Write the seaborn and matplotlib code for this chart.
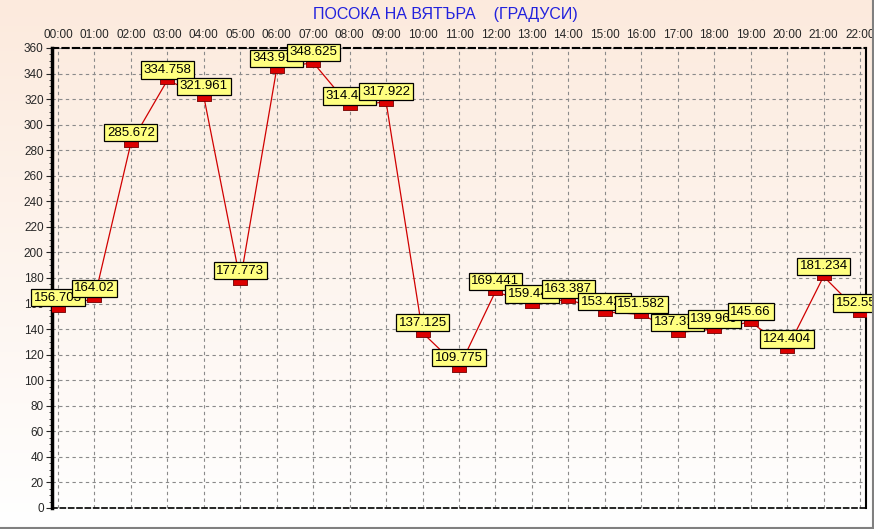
import matplotlib
matplotlib.use("Agg")
import matplotlib.pyplot as plt
from matplotlib.lines import Line2D
from matplotlib.ticker import MultipleLocator
import numpy as np
import pandas as pd
import seaborn as sns

# ── data ──────────────────────────────────────────────────────────────────────
hours = [f"{h:02d}:00" for h in range(23)]
direction = [156.703, 164.02, 285.672, 334.758, 321.961, 177.773, 343.914,
             348.625, 314.485, 317.922, 137.125, 109.775, 169.441, 159.447,
             163.387, 153.425, 151.582, 137.318, 139.969, 145.66, 124.404,
             181.234, 152.557]
y_ticks = list(range(0, 361, 20))
title = "ПОСОКА НА ВЯТЪРА    (ГРАДУСИ)"

df = pd.DataFrame({"idx": range(len(hours)), "hour": hours, "deg": direction})

sns.set_style("white")
plt.rcParams["font.family"] = ["Liberation Sans", "DejaVu Sans"]

W, H = 874, 529
fig = plt.figure(figsize=(W / 100, H / 100), dpi=100)

# gradient background (peach at top -> white at bottom)
bg = fig.add_axes([0, 0, 1, 1])
top = np.array([252, 234, 221]) / 255
bot = np.array([255, 255, 255]) / 255
t = np.linspace(0, 1, 256)[:, None]
grad = top * (1 - t[..., None]) + bot * t[..., None]
grad = np.repeat(grad, 2, axis=1)
bg.imshow(grad, aspect="auto", extent=[0, 1, 0, 1])
bg.set_axis_off()
bg.set_zorder(0)

# plot area
left, right, ytop, ybot = 52, 866, 48, 508
ax = fig.add_axes([left / W, (H - ybot) / H, (right - left) / W, (ybot - ytop) / H])
ax.set_zorder(1)
ax.patch.set_alpha(0)

# flat rectangular marker (wider than tall)
rect = [(-1.6, -1), (1.6, -1), (1.6, 1), (-1.6, 1), (-1.6, -1)]
sns.lineplot(data=df, x="idx", y="deg", ax=ax, color="#d00000", lw=0.9,
             marker=rect, markersize=10, markerfacecolor="#dd0000",
             markeredgecolor="#700000", markeredgewidth=0.6, zorder=3)

px = (right - left) / 22.33
ax.set_xlim(-6 / px, 22 + 6 / px)
ax.set_ylim(0, 360)

for i, (x, v) in enumerate(zip(df["idx"], df["deg"])):
    ax.annotate(f"{v:g}", (x, v), xytext=(0, 3), textcoords="offset points",
                ha="center", va="bottom", fontsize=9.5, color="black",
                zorder=10 + i, annotation_clip=False,
                bbox=dict(boxstyle="square,pad=0.2", fc="#ffff80", ec="black", lw=0.9))

ax.set_xticks(df["idx"])
ax.set_xticklabels(hours)
ax.set_yticks(y_ticks)
ax.yaxis.set_minor_locator(MultipleLocator(5))
ax.xaxis.tick_top()
ax.tick_params(axis="x", length=0, pad=5, labelsize=8.5)
ax.tick_params(axis="y", which="major", length=4, width=0.8, pad=2, labelsize=8.5, left=True)
ax.tick_params(axis="y", which="minor", length=2, width=0.6, left=True)
ax.set_xlabel("")
ax.set_ylabel("")

ax.grid(True, color="#8a8a8a", linestyle=(0, (3, 3)), lw=0.8)

for side in ["left", "right", "top", "bottom"]:
    ax.spines[side].set_visible(True)
    ax.spines[side].set_color("black")
ax.spines["left"].set_linewidth(2.5)
ax.spines["right"].set_linewidth(1.5)
ax.spines["top"].set_linewidth(1.5)
ax.spines["top"].set_linestyle((0, (3, 2)))
ax.spines["bottom"].set_linewidth(1.2)
ax.spines["bottom"].set_linestyle((0, (3, 2)))

fig.text(445 / W, 1 - 15 / H, title, ha="center", va="center",
         fontsize=11.5, color="#2222dd")

# outer gray frame (right and bottom edges)
fig.add_artist(Line2D([0, 1], [1.5 / H, 1.5 / H], transform=fig.transFigure,
                      color="#808080", lw=1.5))
fig.add_artist(Line2D([1 - 1.5 / W, 1 - 1.5 / W], [0, 1], transform=fig.transFigure,
                      color="#808080", lw=1.5))

fig.savefig("out.png", dpi=100)
